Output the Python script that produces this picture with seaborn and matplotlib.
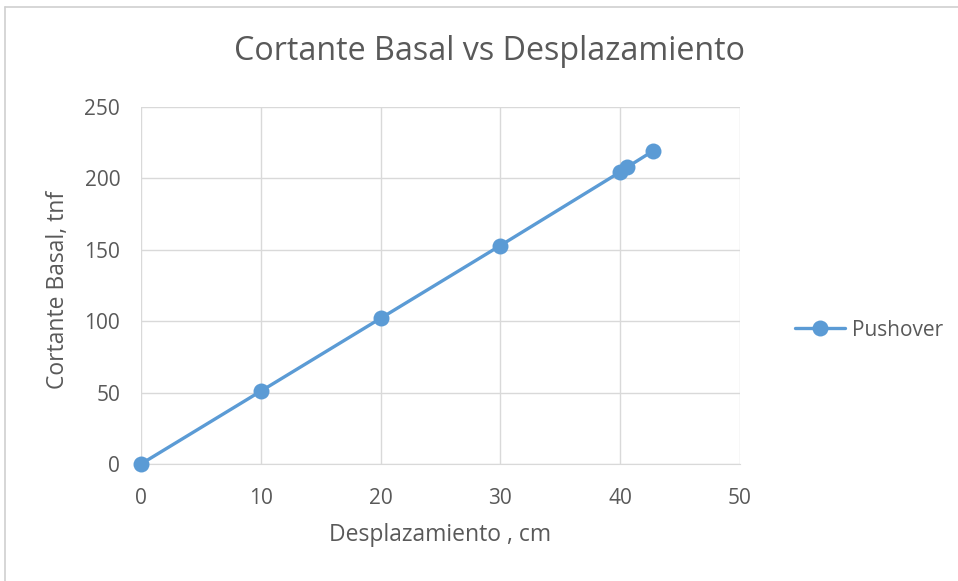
import matplotlib
matplotlib.use("Agg")
import matplotlib.pyplot as plt
from matplotlib.lines import Line2D
import seaborn as sns
import pandas as pd

# Pushover curve: roof displacement (cm) vs base shear (tnf)
desplazamiento = [0.0, 10.0, 20.0, 30.0, 40.0, 40.6, 42.7]
cortante = [0.0, 51.0, 102.0, 153.0, 204.5, 208.0, 219.0]
serie = "Pushover"

x_ticks = [0, 10, 20, 30, 40, 50]
y_ticks = [0, 50, 100, 150, 200, 250]

df = pd.DataFrame({"Desplazamiento": desplazamiento, "Cortante": cortante, "Serie": serie})

sns.set_style("white")
plt.rcParams["font.family"] = ["Open Sans", "DejaVu Sans"]

W, H = 958, 581
fig = plt.figure(figsize=(W / 100, H / 100), dpi=100)
ax = fig.add_axes([141 / W, (H - 464) / H, (740 - 141) / W, (464 - 107) / H])

blue = "#5B9BD5"
text_gray = "#595959"
grid_gray = "#D9D9D9"
lw, ms = 2.4, 11.5

sns.lineplot(data=df, x="Desplazamiento", y="Cortante", ax=ax, color=blue,
             linewidth=lw, marker="o", markersize=ms, markeredgewidth=0,
             legend=False, zorder=3, clip_on=False)

ax.set_xlim(0, 50)
ax.set_ylim(0, 250)
ax.set_xticks(x_ticks)
ax.set_yticks(y_ticks)
ax.grid(True, color=grid_gray, linewidth=1)
ax.set_axisbelow(True)
for side in ["top", "right", "left"]:
    ax.spines[side].set_visible(False)
ax.spines["bottom"].set_color(grid_gray)
ax.tick_params(axis="both", length=0, labelsize=15, labelcolor=text_gray)
ax.tick_params(axis="x", pad=17)
ax.tick_params(axis="y", pad=15)

ax.set_xlabel("Desplazamiento , cm", fontsize=16.5, color=text_gray, va="center")
ax.xaxis.set_label_coords(0.5, (464 - 535) / 357)
ax.set_ylabel("Cortante Basal, tnf", fontsize=16.5, color=text_gray, va="center")
ax.yaxis.set_label_coords((58 - 141) / 599, (464 - 290) / 357)

fig.text(489 / W, 1 - 51 / H, "Cortante Basal vs Desplazamiento", ha="center", va="center",
         fontsize=23.2, color=text_gray)

handle = Line2D([], [], color=blue, linewidth=lw, marker="o", markersize=ms, markeredgewidth=0)
fig.legend([handle], [serie], loc="center left", bbox_to_anchor=(795 / W, 1 - 330 / H),
           frameon=False, fontsize=15, labelcolor=text_gray, handlelength=2.4,
           handletextpad=0.35, borderpad=0, borderaxespad=0)

# Chart-area border (top and left edges)
fig.add_artist(Line2D([5 / W, 5 / W], [0, 1 - 7 / H], transform=fig.transFigure, color="#D0D0D0", linewidth=1.2))
fig.add_artist(Line2D([5 / W, 1], [1 - 7 / H, 1 - 7 / H], transform=fig.transFigure, color="#D0D0D0", linewidth=1.2))

fig.savefig("out.png", dpi=100)
